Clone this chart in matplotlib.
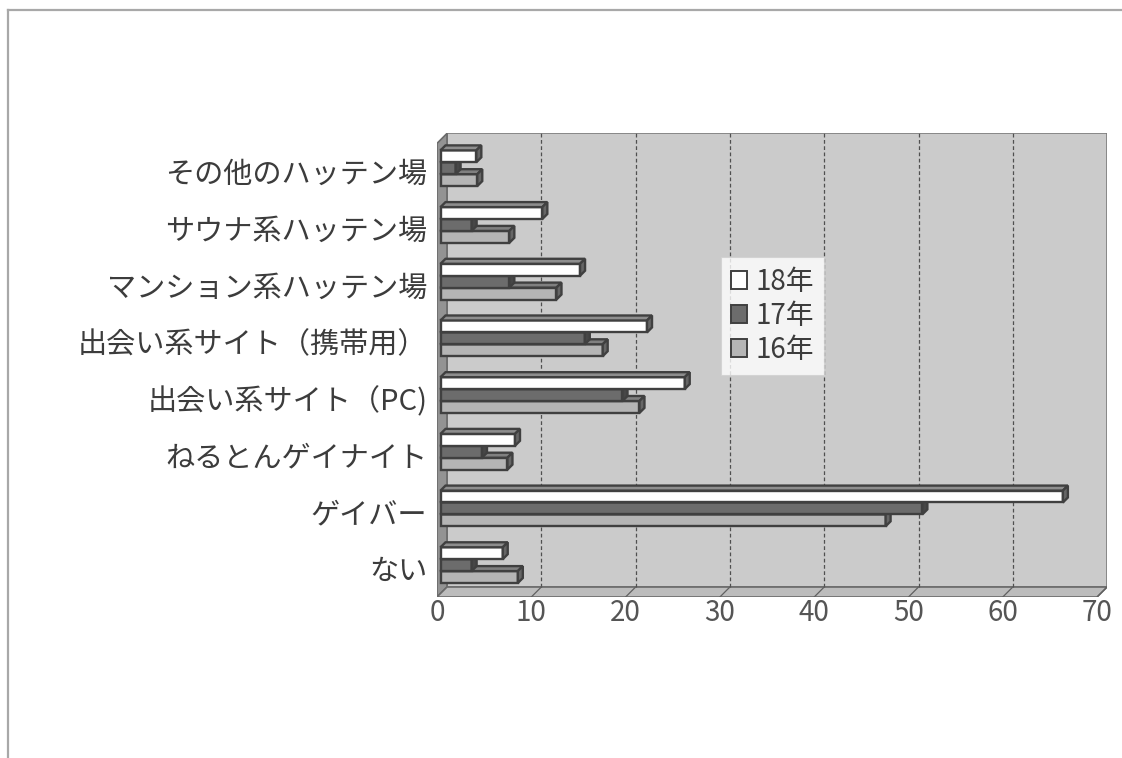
import numpy as np
import matplotlib
matplotlib.use('Agg')
import matplotlib.pyplot as plt
from matplotlib.patches import Polygon, Rectangle, Patch
from matplotlib.lines import Line2D

# categories from bottom to top
categories = ['ない', 'ゲイバー', 'ねるとんゲイナイト', '出会い系サイト（PC)',
              '出会い系サイト（携帯用）', 'マンション系ハッテン場',
              'サウナ系ハッテン場', 'その他のハッテン場']
series_names = ['18年', '17年', '16年']
v18 = [6.6, 66.0, 7.9, 25.9, 21.9, 14.8, 10.8, 3.8]
v17 = [3.3, 51.1, 4.4, 19.3, 15.3, 7.3, 3.3, 1.6]
v16 = [8.2, 47.2, 7.1, 21.1, 17.2, 12.3, 7.3, 3.9]
xticks = [0, 10, 20, 30, 40, 50, 60, 70]

W, H = 1122, 758
PX_X = 9.43      # pixels per value unit
PX_Y = 56.7      # pixels per category
XMAX = 70

# depth of the 3d box and of the bars, in data units
DX, DY = 10 / PX_X, 10 / PX_Y
BX, BY = 3.5 / PX_X, 3.5 / PX_Y
BDX, BDY = 5 / PX_X, 5 / PX_Y
BAR_H = 0.21

# face colours: front, top, side
styles = {
    '18年': ('#ffffff', '#8e8e8e', '#666666'),
    '17年': ('#6c6c6c', '#525252', '#474747'),
    '16年': ('#b5b5b5', '#808080', '#666666'),
}
EDGE = '#404040'

fig = plt.figure(figsize=(W / 100, H / 100), dpi=100)
fig.patch.set_facecolor('white')

# outer frame
fig.add_artist(Line2D([8 / W, 8 / W], [0, 1 - 10 / H], transform=fig.transFigure,
                      color='#a8a8a8', lw=1.6))
fig.add_artist(Line2D([8 / W, 1], [1 - 10 / H, 1 - 10 / H], transform=fig.transFigure,
                      color='#a8a8a8', lw=1.6))

left, bottom = 437, 597
ax = fig.add_axes([left / W, (H - bottom) / H,
                   (XMAX + DX) * PX_X / W, (8 + DY) * PX_Y / H])
ax.set_xlim(0, XMAX + DX)
ax.set_ylim(-0.5, 7.5 + DY)
for s in ax.spines.values():
    s.set_visible(False)
ax.set_facecolor('none')

y0, y1 = -0.5, 7.5
# back wall, left wall, floor
ax.add_patch(Rectangle((DX, y0 + DY), XMAX, 8, facecolor='#cbcbcb',
                       edgecolor='#7c7c7c', lw=1.2, zorder=1))
ax.add_patch(Polygon([(0, y0), (DX, y0 + DY), (DX, y1 + DY), (0, y1)],
                     facecolor='#939393', edgecolor='#6a6a6a', lw=1.2, zorder=1))
ax.add_patch(Polygon([(0, y0), (XMAX, y0), (XMAX + DX, y0 + DY), (DX, y0 + DY)],
                     facecolor='#bcbcbc', edgecolor='#6a6a6a', lw=1.2, zorder=1))

# gridlines on the back wall and the floor
for t in xticks[1:-1]:
    ax.plot([t + DX, t + DX], [y0 + DY, y1 + DY], color='#505050', lw=0.9,
            ls=(0, (3, 2)), zorder=2)
for t in xticks[1:]:
    ax.plot([t, t + DX], [y0, y0 + DY], color='#606060', lw=0.9, zorder=2)


def bar3d(ax, yb, v, colors, z):
    front, top, side = colors
    x0 = BX
    yb = yb + BY
    ax.add_patch(Rectangle((x0, yb), v, BAR_H, facecolor=front,
                           edgecolor=EDGE, lw=1.7, zorder=z))
    ax.add_patch(Polygon([(x0, yb + BAR_H), (x0 + v, yb + BAR_H),
                          (x0 + v + BDX, yb + BAR_H + BDY), (x0 + BDX, yb + BAR_H + BDY)],
                         facecolor=top, edgecolor=EDGE, lw=1.7, zorder=z))
    ax.add_patch(Polygon([(x0 + v, yb), (x0 + v + BDX, yb + BDY),
                          (x0 + v + BDX, yb + BAR_H + BDY), (x0 + v, yb + BAR_H)],
                         facecolor=side, edgecolor=EDGE, lw=1.7, zorder=z))


values = {'18年': v18, '17年': v17, '16年': v16}
offsets = {'18年': 0.5 * BAR_H, '17年': -0.5 * BAR_H, '16年': -1.5 * BAR_H}
y = np.arange(len(categories))
for i in y:
    # lower bars first so the upper ones sit on top of them
    for k, name in enumerate(['16年', '17年', '18年']):
        bar3d(ax, i + offsets[name], values[name][i], styles[name], 3 + k)

# axes labels
jp_font = ['Noto Sans CJK JP', 'DejaVu Sans']
ax.set_xticks(xticks)
ax.set_xticklabels([str(t) for t in xticks], family=jp_font, fontsize=20,
                   color='#555555')
ax.set_yticks(y)
ax.set_yticklabels(categories, family=jp_font, fontsize=21, color='#3c3c3c')
ax.tick_params(axis='x', length=0, pad=1)
ax.tick_params(axis='y', length=0, pad=7)

handles = [Patch(facecolor=styles[n][0], edgecolor=EDGE, lw=1.4, label=n)
           for n in series_names]
leg = ax.legend(handles=handles, loc='upper left',
                bbox_to_anchor=(721 / W, 1 - 257 / H), bbox_transform=fig.transFigure,
                prop={'family': jp_font, 'size': 20}, frameon=True, fancybox=False,
                handlelength=0.6, handleheight=0.6, handletextpad=0.3,
                labelspacing=0.15, borderpad=0.35, borderaxespad=0)
leg.get_frame().set_edgecolor('#d0d0d0')
leg.get_frame().set_linewidth(0.8)
leg.set_zorder(10)
for t in leg.get_texts():
    t.set_color('#3c3c3c')

fig.savefig('out.png', dpi=100)
